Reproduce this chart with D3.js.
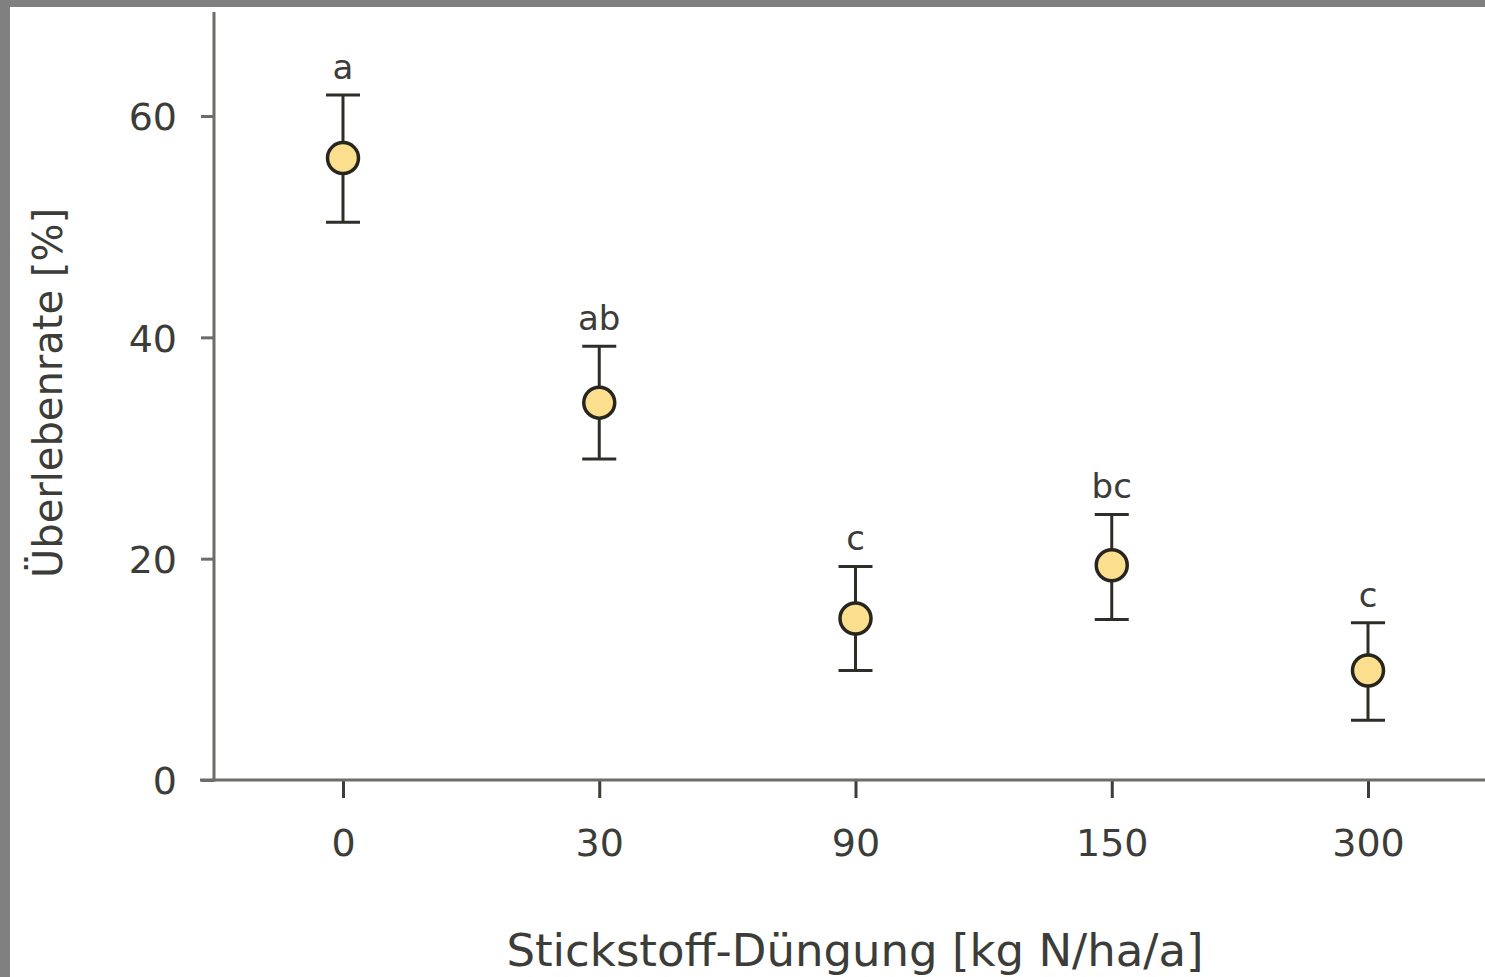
<!DOCTYPE html>
<html>
<head>
<meta charset="utf-8">
<script src="https://cdn.jsdelivr.net/npm/d3@7"></script>
<style>
  html, body { margin: 0; padding: 0; background: #808080; }
  svg { display: block; }
  text { font-family: "DejaVu Sans", Verdana, sans-serif; fill: #3c3c38; }
</style>
</head>
<body>
<div id="chart"></div>
<script>
// Data
const doses = ["0", "30", "90", "150", "300"];
const survival = [56.2, 34.1, 14.6, 19.4, 9.9];
const errUpper = [61.9, 39.2, 19.3, 24.0, 14.2];
const errLower = [50.4, 29.0, 9.9, 14.5, 5.4];
const groupLetters = ["a", "ab", "c", "bc", "c"];
const yTicks = [0, 20, 40, 60];

const W = 1485, H = 977;
const axisColor = "#6d6d68";

const svg = d3.select("#chart").append("svg")
  .attr("width", W)
  .attr("height", H);

// gray frame + white panel
svg.append("rect").attr("width", W).attr("height", H).attr("fill", "#808080");
svg.append("rect").attr("x", 10).attr("y", 7)
  .attr("width", W - 10).attr("height", H - 7).attr("fill", "#ffffff");

const x = d3.scalePoint()
  .domain(doses)
  .range([343, 1368]);

const y = d3.scaleLinear()
  .domain([0, 69.4])
  .range([780, 12]);

// Y axis
const yAxis = d3.axisLeft(y).tickValues(yTicks).tickSize(13).tickPadding(24).tickSizeOuter(0);
const gy = svg.append("g").attr("transform", "translate(214,0)").call(yAxis);
gy.select(".domain").remove();
gy.selectAll(".tick line").attr("stroke", axisColor).attr("stroke-width", 3);
gy.selectAll(".tick text").style("font-size", "38px").attr("dy", "0.36em");
svg.append("line")
  .attr("x1", 214).attr("x2", 214)
  .attr("y1", y.range()[1]).attr("y2", y(0) + 1.5)
  .attr("stroke", axisColor).attr("stroke-width", 3);

// X axis
const xAxis = d3.axisBottom(x).tickSize(18).tickPadding(31).tickSizeOuter(0);
const gx = svg.append("g").attr("transform", "translate(0," + y(0) + ")").call(xAxis);
gx.select(".domain").remove();
gx.selectAll(".tick line").attr("stroke", "#3c3c38").attr("stroke-width", 3);
gx.selectAll(".tick text").style("font-size", "38px");
svg.append("line")
  .attr("x1", 200).attr("x2", W)
  .attr("y1", y(0)).attr("y2", y(0))
  .attr("stroke", axisColor).attr("stroke-width", 3);

// Axis titles
svg.append("text")
  .attr("x", 855).attr("y", 966)
  .attr("text-anchor", "middle")
  .style("font-size", "45px")
  .text("Stickstoff-Düngung [kg N/ha/a]");

svg.append("text")
  .attr("transform", "translate(62,393) rotate(-90)")
  .attr("text-anchor", "middle")
  .style("font-size", "40px")
  .text("Überlebenrate [%]");

// Error bars
const rows = doses.map((d, i) => ({
  dose: d, v: survival[i], hi: errUpper[i], lo: errLower[i], label: groupLetters[i]
}));

const pts = svg.append("g").selectAll("g").data(rows).join("g");

pts.append("line")
  .attr("x1", d => x(d.dose)).attr("x2", d => x(d.dose))
  .attr("y1", d => y(d.hi)).attr("y2", d => y(d.lo))
  .attr("stroke", "#2e2e29").attr("stroke-width", 3);
pts.append("line")
  .attr("x1", d => x(d.dose) - 17).attr("x2", d => x(d.dose) + 17)
  .attr("y1", d => y(d.hi)).attr("y2", d => y(d.hi))
  .attr("stroke", "#2e2e29").attr("stroke-width", 3);
pts.append("line")
  .attr("x1", d => x(d.dose) - 17).attr("x2", d => x(d.dose) + 17)
  .attr("y1", d => y(d.lo)).attr("y2", d => y(d.lo))
  .attr("stroke", "#2e2e29").attr("stroke-width", 3);

pts.append("circle")
  .attr("cx", d => x(d.dose)).attr("cy", d => y(d.v))
  .attr("r", 15.5)
  .attr("fill", "#fbdf8e")
  .attr("stroke", "#26261f").attr("stroke-width", 3.5);

pts.append("text")
  .attr("x", d => x(d.dose)).attr("y", d => y(d.hi) - 16)
  .attr("text-anchor", "middle")
  .style("font-size", "34px")
  .text(d => d.label);
</script>
</body>
</html>
